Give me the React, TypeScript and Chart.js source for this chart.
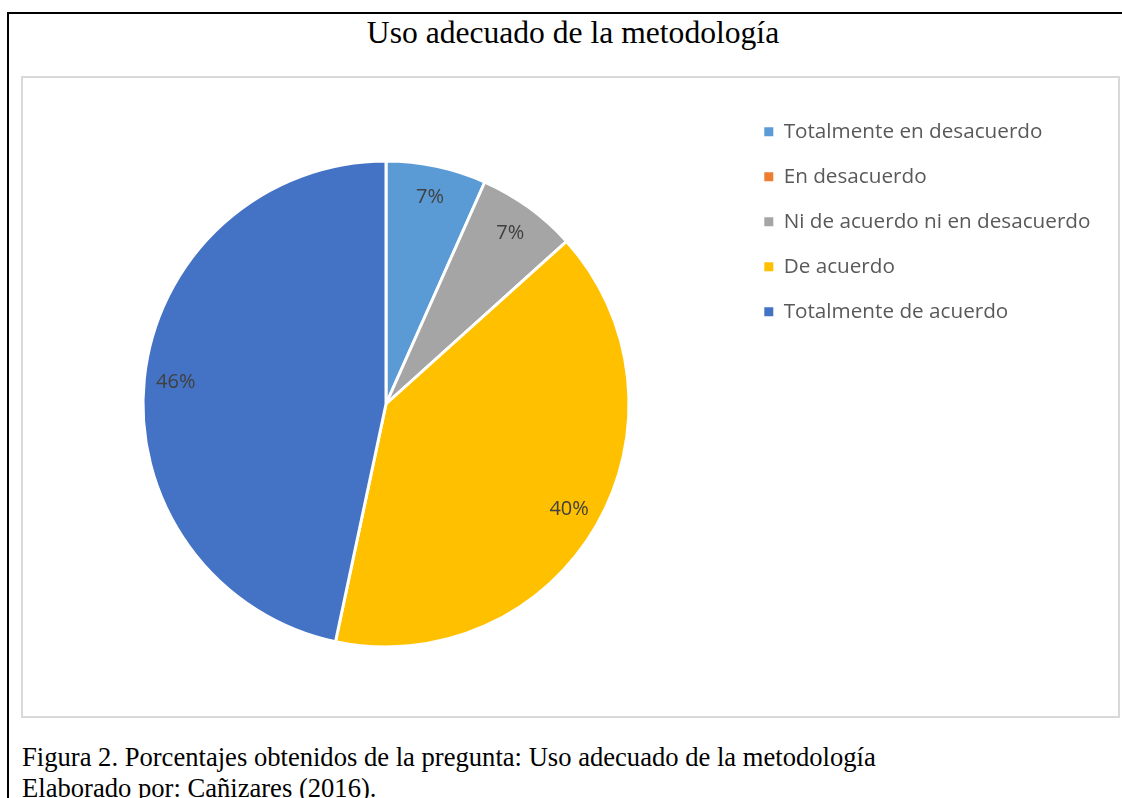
import React, { useEffect, useRef } from "react";
import { Chart, registerables } from "chart.js";

Chart.register(...registerables);

const TITLE = "Uso adecuado de la metodología";
const CATEGORIES = [
  "Totalmente en desacuerdo",
  "En desacuerdo",
  "Ni de acuerdo ni en desacuerdo",
  "De acuerdo",
  "Totalmente de acuerdo",
];
const COUNTS = [1, 0, 1, 6, 7];
const PERCENT_LABELS = ["7%", "0%", "7%", "40%", "46%"];
const COLORS = ["#5B9BD5", "#ED7D31", "#A5A5A5", "#FFC000", "#4472C4"];
const CAPTION_LINES = [
  "Figura 2. Porcentajes obtenidos de la pregunta: Uso adecuado de la metodología",
  "Elaborado por: Cañizares (2016).",
];

const CANVAS_W = 1117;
const CANVAS_H = 639;
const LEGEND_FONT = 20.7;
const LEGEND_PAD = 24.3;
const LEGEND_BOX = 9;
const LEGEND_LEFT = 740;
const PIE_CENTER_X = 386;
const FONT_SANS = "'Open Sans'";

const pctLabelPlugin = {
  id: "pctLabels",
  afterDatasetsDraw(chart: any) {
    const meta = chart.getDatasetMeta(0);
    const ctx = chart.ctx;
    ctx.save();
    ctx.font = `20px ${FONT_SANS}`;
    ctx.fillStyle = "#404040";
    ctx.textAlign = "center";
    ctx.textBaseline = "middle";
    meta.data.forEach((arc: any, i: number) => {
      if (!COUNTS[i]) return;
      const { x, y, startAngle, endAngle, outerRadius } = arc.getProps(
        ["x", "y", "startAngle", "endAngle", "outerRadius"],
        true
      );
      const mid = (startAngle + endAngle) / 2;
      const r = outerRadius * 0.87;
      ctx.fillText(PERCENT_LABELS[i], x + Math.cos(mid) * r, y + Math.sin(mid) * r);
    });
    ctx.restore();
  },
};

function PieChart() {
  const ref = useRef<HTMLCanvasElement | null>(null);
  useEffect(() => {
    if (!ref.current) return;
    const m = document.createElement("canvas").getContext("2d")!;
    m.font = `${LEGEND_FONT}px ${FONT_SANS}`;
    const maxW = Math.max(...CATEGORIES.map((c) => m.measureText(c).width));
    const legendW = LEGEND_PAD + LEGEND_BOX + LEGEND_FONT / 2 + maxW + 10;
    const padRight = Math.max(0, CANVAS_W - LEGEND_LEFT - legendW);
    const padLeft = 2 * PIE_CENTER_X - LEGEND_LEFT;

    const chart = new Chart(ref.current, {
      type: "pie",
      data: {
        labels: CATEGORIES,
        datasets: [
          {
            data: COUNTS,
            backgroundColor: COLORS,
            borderColor: "#ffffff",
            borderWidth: 3,
            radius: 243,
          } as any,
        ],
      },
      options: {
        responsive: false,
        animation: false,
        events: [],
        layout: {
          padding: { left: padLeft, right: padRight, top: 20, bottom: 5 },
        },
        plugins: {
          tooltip: { enabled: false },
          title: { display: false },
          legend: {
            position: "right",
            align: "start",
            labels: {
              boxWidth: LEGEND_BOX,
              boxHeight: LEGEND_BOX,
              padding: LEGEND_PAD,
              color: "#595959",
              font: { family: FONT_SANS, size: LEGEND_FONT },
              generateLabels: (c: any) =>
                (Chart as any).overrides.doughnut.plugins.legend.labels
                  .generateLabels(c)
                  .map((l: any) => ({ ...l, lineWidth: 0, strokeStyle: "rgba(0,0,0,0)" })),
            },
          },
        },
      },
      plugins: [pctLabelPlugin],
    });
    return () => chart.destroy();
  }, []);
  return (
    <canvas
      ref={ref}
      width={CANVAS_W}
      height={CANVAS_H}
      style={{ position: "absolute", left: 0, top: 77, width: CANVAS_W, height: CANVAS_H }}
    />
  );
}

export default function App() {
  const serif = "'Liberation Serif', 'Times New Roman', serif";
  return (
    <div
      style={{
        position: "fixed",
        left: 0,
        top: 0,
        width: 1122,
        height: 798,
        background: "#ffffff",
        overflow: "hidden",
      }}
    >
      <div
        style={{
          position: "absolute",
          left: 7,
          top: 12,
          width: 1122,
          height: 800,
          borderTop: "2px solid #000",
          borderLeft: "2px solid #000",
        }}
      />
      <div
        style={{
          position: "absolute",
          left: 0,
          top: 15,
          width: 1146,
          textAlign: "center",
          fontFamily: serif,
          fontSize: 31.6,
          lineHeight: "35px",
          color: "#000",
          whiteSpace: "nowrap",
        }}
      >
        {TITLE}
      </div>
      <div
        style={{
          position: "absolute",
          left: 21,
          top: 76,
          width: 1095,
          height: 638,
          border: "2px solid #d9d9d9",
        }}
      />
      <PieChart />
      <div
        style={{
          position: "absolute",
          left: 22,
          top: 741.5,
          fontFamily: serif,
          fontSize: 26.6,
          lineHeight: "31px",
          color: "#000",
          whiteSpace: "nowrap",
        }}
      >
        {CAPTION_LINES.map((l, i) => (
          <div key={i}>{l}</div>
        ))}
      </div>
    </div>
  );
}
